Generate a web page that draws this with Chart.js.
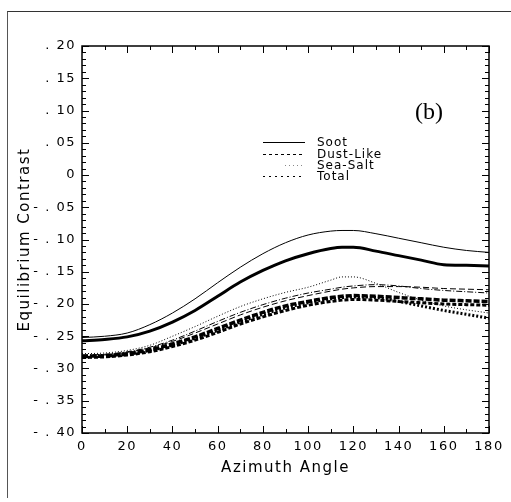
<!DOCTYPE html>
<html><head><meta charset="utf-8">
<script src="https://cdn.jsdelivr.net/npm/chart.js@4"></script>
<style>
html,body{margin:0;padding:0;background:#fff;}
#wrap{position:relative;width:511px;height:502px;overflow:hidden;}
#frame{position:absolute;left:7px;top:11px;width:504px;height:487px;border-top:1px solid #333;border-left:1px solid #555;box-sizing:border-box;pointer-events:none;}
canvas{position:absolute;left:0;top:0;}
</style></head>
<body><div id="wrap"><canvas id="c" width="511" height="502"></canvas><div id="frame"></div></div>
<script>
const angles = [0,10,20,30,40,50,60,70,80,90,100,110,115,120,130,140,150,160,170,180];
const sootThin = [-0.252,-0.250,-0.245,-0.232,-0.214,-0.192,-0.167,-0.143,-0.122,-0.105,-0.093,-0.087,-0.086,-0.086,-0.091,-0.098,-0.105,-0.112,-0.117,-0.120];
const sootThick = [-0.257,-0.255,-0.251,-0.242,-0.228,-0.210,-0.188,-0.166,-0.148,-0.133,-0.122,-0.114,-0.112,-0.112,-0.118,-0.125,-0.132,-0.139,-0.140,-0.141];
const seaSaltThin = [-0.277,-0.276,-0.272,-0.264,-0.250,-0.235,-0.219,-0.204,-0.192,-0.182,-0.174,-0.163,-0.158,-0.158,-0.168,-0.182,-0.194,-0.203,-0.209,-0.214];
const totalThin = [-0.279,-0.278,-0.274,-0.267,-0.256,-0.242,-0.227,-0.213,-0.201,-0.191,-0.183,-0.177,-0.174,-0.172,-0.170,-0.172,-0.176,-0.179,-0.181,-0.183];
const dustThin = [-0.280,-0.279,-0.275,-0.268,-0.258,-0.245,-0.231,-0.217,-0.205,-0.195,-0.187,-0.180,-0.177,-0.175,-0.173,-0.173,-0.174,-0.176,-0.177,-0.178];
const dustThick = [-0.281,-0.280,-0.277,-0.271,-0.262,-0.251,-0.238,-0.225,-0.213,-0.203,-0.196,-0.190,-0.188,-0.187,-0.188,-0.190,-0.192,-0.194,-0.195,-0.196];
const totalThick = [-0.283,-0.282,-0.279,-0.274,-0.266,-0.256,-0.244,-0.231,-0.220,-0.210,-0.202,-0.196,-0.194,-0.193,-0.194,-0.196,-0.198,-0.200,-0.201,-0.202];
const seaSaltThick = [-0.282,-0.281,-0.278,-0.272,-0.264,-0.253,-0.241,-0.228,-0.216,-0.206,-0.198,-0.192,-0.190,-0.189,-0.190,-0.196,-0.203,-0.210,-0.216,-0.222];

const yTickLabels = ['- . 40','- . 35','- . 30','- . 25','- . 20','- . 15','- . 10','- . 05','0','. 05','. 10','. 15','. 20'];
const xTickLabels = ['0','20','40','60','80','100','120','140','160','180'];
const legendLabels = ['Soot','Dust-Like','Sea-Salt','Total'];
const panelLabel = '(b)';
const xTitle = 'Azimuth Angle';
const yTitle = 'Equilibrium Contrast';

function pts(vals){ return vals.map((v,i)=>({x:angles[i], y:v})); }
function ds(vals, width, dash){
  return {data:pts(vals), borderColor:'#000', borderWidth:width, borderDash:dash,
    pointRadius:0, fill:false, cubicInterpolationMode:'monotone', borderCapStyle:'butt'};
}

const spacing = {id:'spacing', beforeDraw(chart){ chart.ctx.letterSpacing='1.5px'; }};

const frameTicks = {
  id:'frameTicks',
  afterDatasetsDraw(chart){
    const {ctx, chartArea:a, scales:{x,y}} = chart;
    ctx.save();
    ctx.strokeStyle='#000';
    ctx.lineWidth=1;
    ctx.beginPath();
    for(let v=-40; v<=20; v++){
      const py=Math.round(y.getPixelForValue(v/100))+0.5;
      const len = (v%5===0)?7:4;
      ctx.moveTo(a.left,py); ctx.lineTo(a.left+len,py);
      ctx.moveTo(a.right,py); ctx.lineTo(a.right-len,py);
    }
    for(let d=0; d<=180; d+=10){
      const px=Math.round(x.getPixelForValue(d))+0.5;
      const len = (d%20===0)?7:4;
      ctx.moveTo(px,a.bottom); ctx.lineTo(px,a.bottom-len);
      ctx.moveTo(px,a.top); ctx.lineTo(px,a.top+len);
    }
    ctx.stroke();
    ctx.lineWidth=1.5;
    ctx.strokeRect(a.left,a.top,a.width,a.height);
    // legend
    const styles=[{w:1.2,d:[],s:181},{w:1,d:[3,3],s:181},{w:1,d:[1,3],c:'#888',s:203},{w:1,d:[2,4],s:181}];
    const ys=[96,108,119,130];
    ctx.letterSpacing='1px';
    ctx.font='12px "DejaVu Sans"';
    ctx.textBaseline='middle';
    ctx.textAlign='left';
    legendLabels.forEach((lab,i)=>{
      const yy=a.top+ys[i]+0.5;
      ctx.beginPath();
      ctx.setLineDash(styles[i].d);
      ctx.lineWidth=styles[i].w;
      ctx.strokeStyle=styles[i].c||'#000';
      ctx.moveTo(a.left+styles[i].s,yy); ctx.lineTo(a.left+223,yy);
      ctx.stroke();
      ctx.setLineDash([]);
      ctx.fillStyle='#000';
      ctx.fillText(lab,a.left+235,yy);
    });
    ctx.letterSpacing='0px';
    ctx.font='24px "Liberation Serif"';
    ctx.fillText(panelLabel,a.left+333,a.top+67);
    ctx.restore();
  }
};

new Chart(document.getElementById('c'),{
  type:'line',
  data:{datasets:[
    ds(sootThin,1,[]),
    ds(sootThick,3,[]),
    ds(seaSaltThin,1,[1,2]),
    ds(totalThin,1,[6,2,1,2]),
    ds(dustThin,1,[6,3]),
    ds(dustThick,3.5,[6,2]),
    ds(totalThick,3,[4,2]),
    ds(seaSaltThick,3,[2,2])
  ]},
  options:{
    responsive:false, animation:false, devicePixelRatio:1,
    layout:{padding:{left:0,top:46,right:22,bottom:0}},
    plugins:{legend:{display:false},tooltip:{enabled:false}},
    scales:{
      x:{type:'linear',min:0,max:180,
        grid:{display:false,drawTicks:false},border:{display:false},
        ticks:{stepSize:20,padding:6,color:'#000',font:{family:'DejaVu Sans',size:13},maxRotation:0,
          callback:(v,i)=>xTickLabels[i]},
        title:{display:true,text:xTitle,color:'#000',font:{family:'DejaVu Sans',size:15},padding:{top:0,bottom:25}},
        afterFit:(s)=>{s.height=69;}
      },
      y:{type:'linear',min:-0.4,max:0.2,
        grid:{display:false,drawTicks:false},border:{display:false},
        ticks:{stepSize:0.05,padding:6,color:'#000',font:{family:'DejaVu Sans',size:13},
          callback:(v,i)=>yTickLabels[i]},
        title:{display:true,text:yTitle,color:'#000',font:{family:'DejaVu Sans',size:15},padding:{top:16,bottom:0}},
        afterFit:(s)=>{s.width=82;}
      }
    }
  },
  plugins:[spacing,frameTicks]
});
</script>
</body></html>
